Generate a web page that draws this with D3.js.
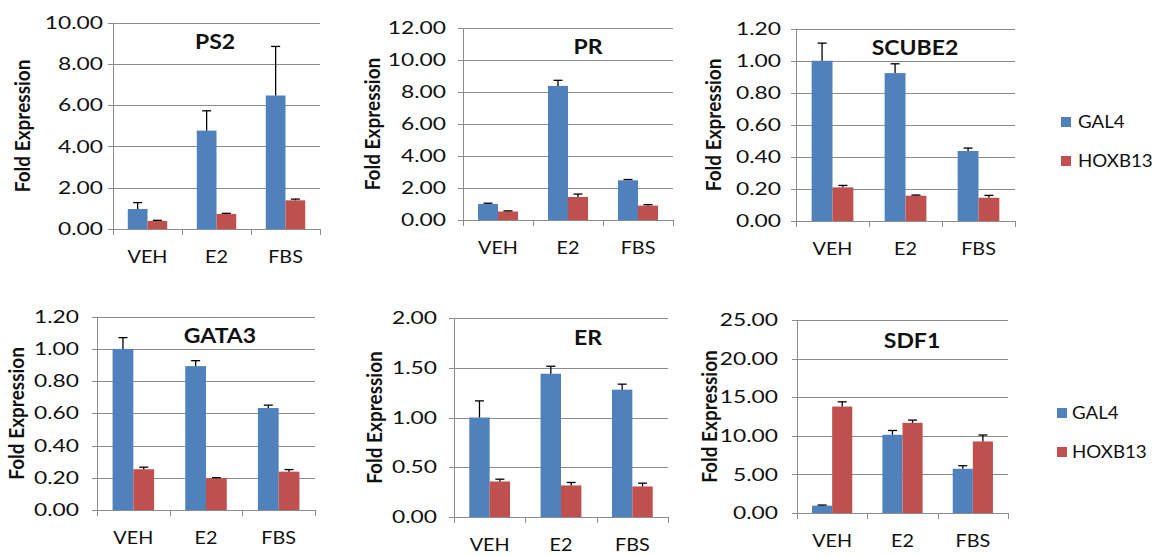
<!DOCTYPE html>
<html>
<head>
<meta charset="utf-8">
<script src="https://cdn.jsdelivr.net/npm/d3@7"></script>
<style>
  body { margin: 0; background: #fff; }
  svg { font-family: Lato, "Open Sans", sans-serif; }
  .grid line { stroke: #8c8c8c; stroke-width: 1; }
  .tick-label { font-size: 17px; fill: #111; }
  .cat-label { font-size: 18px; fill: #111; }
  .title { font-size: 20px; font-weight: bold; fill: #111; }
  .ylabel { font-size: 19px; font-weight: bold; fill: #111; }
  .legend-text { font-size: 18px; fill: #111; }
</style>
</head>
<body>
<svg id="chart" width="1160" height="556"></svg>
<script>
// data
let categories = ["VEH", "E2", "FBS"]
let series = ["GAL4", "HOXB13"]
let colors = ["#4f81bd", "#c0504d"]
let genes = ["PS2", "PR", "SCUBE2", "GATA3", "ER", "SDF1"]

let gal4Values = {
    PS2: [0.97, 4.77, 6.47],
    PR: [1.0, 8.38, 2.48],
    SCUBE2: [1.0, 0.923, 0.437],
    GATA3: [1.0, 0.893, 0.633],
    ER: [1.0, 1.44, 1.28],
    SDF1: [0.95, 10.13, 5.73]
}
let gal4Errors = {
    PS2: [0.31, 0.96, 2.38],
    PR: [0.05, 0.35, 0.05],
    SCUBE2: [0.11, 0.058, 0.018],
    GATA3: [0.07, 0.034, 0.018],
    ER: [0.167, 0.075, 0.055],
    SDF1: [0.08, 0.56, 0.39]
}
let hoxValues = {
    PS2: [0.39, 0.73, 1.39],
    PR: [0.53, 1.44, 0.9],
    SCUBE2: [0.21, 0.158, 0.145],
    GATA3: [0.253, 0.197, 0.238],
    ER: [0.357, 0.317, 0.307],
    SDF1: [13.79, 11.68, 9.27]
}
let hoxErrors = {
    PS2: [0.03, 0.03, 0.06],
    PR: [0.04, 0.18, 0.06],
    SCUBE2: [0.012, 0.004, 0.015],
    GATA3: [0.013, 0.004, 0.013],
    ER: [0.023, 0.03, 0.033],
    SDF1: [0.61, 0.35, 0.83]
}
let yMax = { PS2: 10, PR: 12, SCUBE2: 1.2, GATA3: 1.2, ER: 2, SDF1: 25 }
let yStep = { PS2: 2, PR: 2, SCUBE2: 0.2, GATA3: 0.2, ER: 0.5, SDF1: 5 }

// layout of each small chart (plot box, title spot, axis label spot, tick label gap)
let layout = {
    PS2: { x0: 113, x1: 320, top: 22.7, bottom: 229, tx: 215, ty: 49, lx: 23, gap: 10 },
    PR: { x0: 463, x1: 673, top: 28, bottom: 220, tx: 588, ty: 54, lx: 373, gap: 17 },
    SCUBE2: { x0: 796, x1: 1015, top: 28.7, bottom: 221, tx: 915, ty: 55, lx: 714, gap: 15 },
    GATA3: { x0: 97, x1: 315, top: 316.7, bottom: 510, tx: 220, ty: 343, lx: 17, gap: 18 },
    ER: { x0: 454, x1: 668, top: 318, bottom: 517, tx: 588, ty: 345, lx: 375, gap: 17 },
    SDF1: { x0: 797, x1: 1008, top: 320, bottom: 513, tx: 912, ty: 348, lx: 710, gap: 19 }
}

// the source picture is stretched sideways, so text gets a horizontal scale
function placeText(sel, x, y, sx) {
    sel.attr("transform", function (d, i) {
        let px = typeof x === "function" ? x(d, i) : x
        let py = typeof y === "function" ? y(d, i) : y
        return "translate(" + px + "," + py + ") scale(" + sx + ",1)"
    })
}

let svg = d3.select("#chart")

genes.forEach(function (gene) {
    let L = layout[gene]
    let g = svg.append("g")

    let yScale = d3.scaleLinear().domain([0, yMax[gene]]).range([L.bottom, L.top])
    let xScale = d3.scaleBand().domain(categories).range([L.x0, L.x1])
    let x1 = d3.scaleBand().domain(series).range([0, xScale.bandwidth()]).paddingOuter(0.75)

    let ticks = d3.range(0, yMax[gene] + yStep[gene] / 2, yStep[gene])

    // gridlines + y ticks (extend a bit left of axis)
    g.append("g").attr("class", "grid")
        .selectAll("line")
        .data(ticks)
        .enter()
        .append("line")
        .attr("x1", L.x0 - 5)
        .attr("x2", L.x1)
        .attr("y1", function (d) { return Math.round(yScale(d)) + 0.5 })
        .attr("y2", function (d) { return Math.round(yScale(d)) + 0.5 })

    // y tick labels
    let tl = g.selectAll(".tick-label")
        .data(ticks)
        .enter()
        .append("text")
        .attr("class", "tick-label")
        .attr("dy", "0.36em")
        .attr("text-anchor", "end")
        .text(function (d) { return d.toFixed(2) })
    placeText(tl, L.x0 - L.gap, function (d) { return yScale(d) }, 1.34)

    // y axis line
    g.append("line")
        .attr("x1", Math.round(L.x0) + 0.5).attr("x2", Math.round(L.x0) + 0.5)
        .attr("y1", L.top).attr("y2", L.bottom)
        .attr("stroke", "#8c8c8c")

    // x ticks at category boundaries
    let bounds = categories.map(function (c) { return xScale(c) }).concat([L.x1])
    g.selectAll(".xtick")
        .data(bounds)
        .enter()
        .append("line")
        .attr("x1", function (d) { return Math.round(d) + 0.5 })
        .attr("x2", function (d) { return Math.round(d) + 0.5 })
        .attr("y1", L.bottom)
        .attr("y2", L.bottom + 6)
        .attr("stroke", "#8c8c8c")

    // category labels
    let cl = g.selectAll(".cat-label")
        .data(categories)
        .enter()
        .append("text")
        .attr("class", "cat-label")
        .attr("text-anchor", "middle")
        .text(function (d) { return d })
    placeText(cl, function (d) { return xScale(d) + xScale.bandwidth() / 2 }, L.bottom + 34, 1.1)

    // bars
    let rows = []
    categories.forEach(function (c, i) {
        rows.push({ cat: c, s: "GAL4", v: gal4Values[gene][i], e: gal4Errors[gene][i], color: colors[0] })
        rows.push({ cat: c, s: "HOXB13", v: hoxValues[gene][i], e: hoxErrors[gene][i], color: colors[1] })
    })

    g.selectAll(".bar")
        .data(rows)
        .enter()
        .append("rect")
        .attr("x", function (d) { return xScale(d.cat) + x1(d.s) })
        .attr("width", x1.bandwidth())
        .attr("y", function (d) { return yScale(d.v) })
        .attr("height", function (d) { return yScale(0) - yScale(d.v) })
        .style("fill", function (d) { return d.color })

    // error bars (upper only)
    let cx = function (d) { return xScale(d.cat) + x1(d.s) + x1.bandwidth() / 2 }
    let eb = g.selectAll(".err")
        .data(rows)
        .enter()
        .append("g")
    eb.append("line")
        .attr("x1", cx)
        .attr("x2", cx)
        .attr("y1", function (d) { return yScale(d.v) })
        .attr("y2", function (d) { return yScale(d.v + d.e) })
        .attr("stroke", "#000")
        .attr("stroke-width", 1.3)
    eb.append("line")
        .attr("x1", function (d) { return cx(d) - 4.5 })
        .attr("x2", function (d) { return cx(d) + 4.5 })
        .attr("y1", function (d) { return yScale(d.v + d.e) })
        .attr("y2", function (d) { return yScale(d.v + d.e) })
        .attr("stroke", "#000")
        .attr("stroke-width", 1.3)

    // title
    let t = g.append("text")
        .attr("class", "title")
        .attr("text-anchor", "middle")
        .text(gene)
    placeText(t, L.tx, L.ty, 1.15)

    // y axis label
    g.append("text")
        .attr("class", "ylabel")
        .attr("transform", "translate(" + L.lx + "," + ((L.top + L.bottom) / 2) + ") scale(1.1,1) rotate(-90)")
        .attr("dy", "0.35em")
        .attr("text-anchor", "middle")
        .text("Fold Expression")
})

// legends
let legendSpots = [
    { x: 1061, y: 117, tx: 1078 },
    { x: 1057, y: 408, tx: 1072 }
]
legendSpots.forEach(function (p) {
    series.forEach(function (s, i) {
        svg.append("rect")
            .attr("x", p.x).attr("y", p.y + i * 39)
            .attr("width", 10).attr("height", 10)
            .style("fill", colors[i])
        let lt = svg.append("text")
            .attr("class", "legend-text")
            .text(s)
        placeText(lt, p.tx, p.y + i * 39 + 11, 1.04)
    })
})
</script>
</body>
</html>
